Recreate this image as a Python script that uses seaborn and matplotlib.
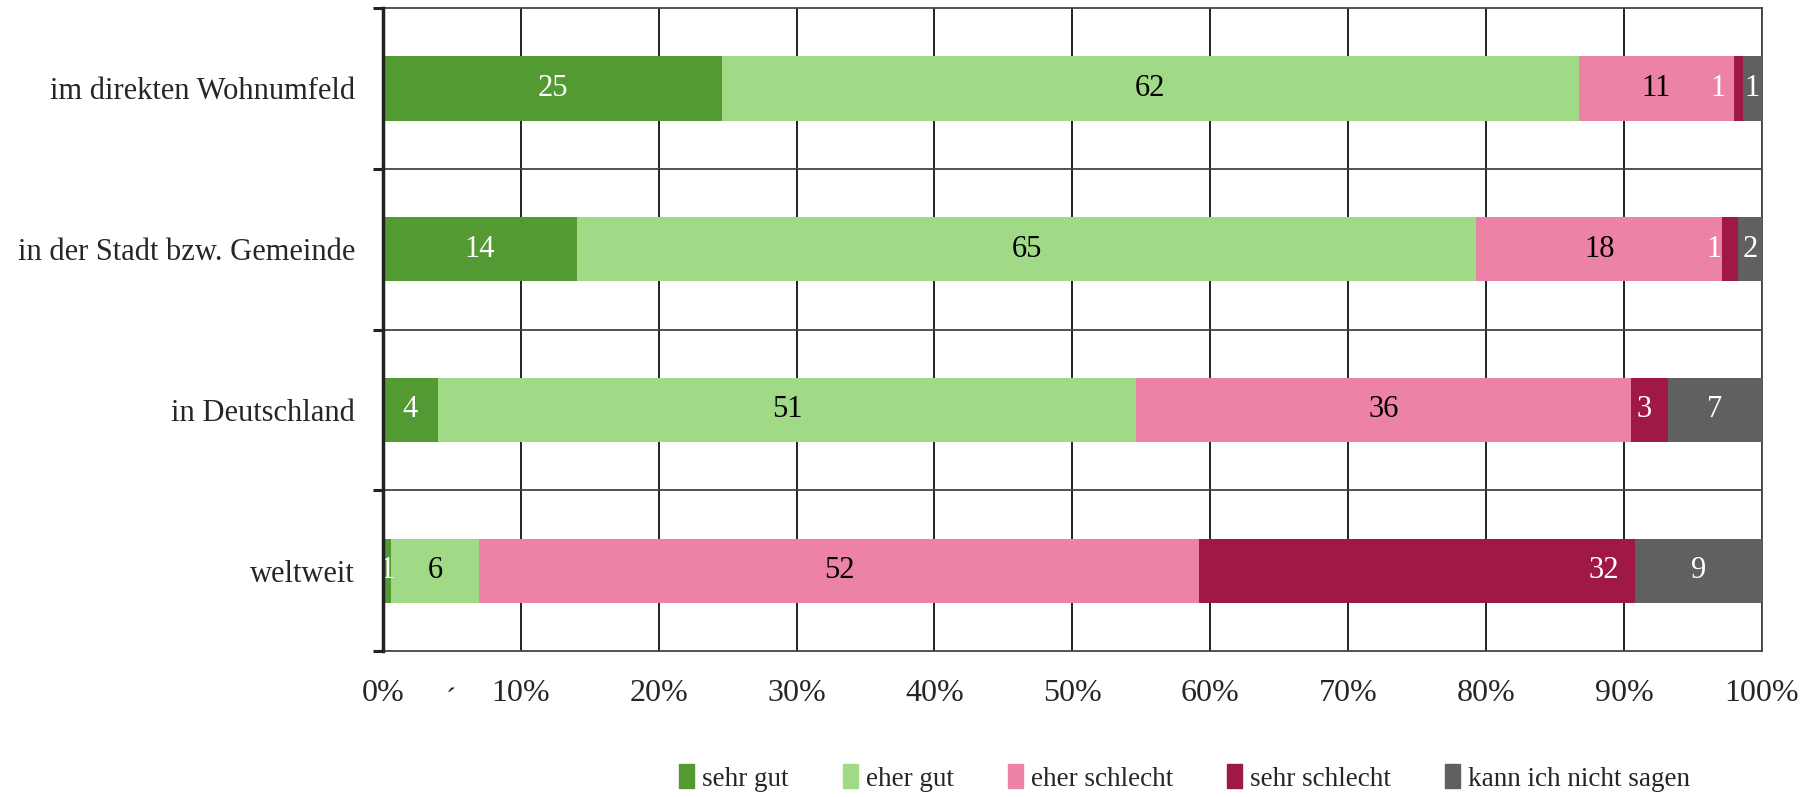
import pandas as pd
import matplotlib.pyplot as plt
import seaborn as sns
import numpy as np

# data (percent)
categories = ["im direkten Wohnumfeld", "in der Stadt bzw. Gemeinde", "in Deutschland", "weltweit"]
series = ["sehr gut", "eher gut", "eher schlecht", "sehr schlecht", "kann ich nicht sagen"]
sehr_gut = [24.6, 14.1, 4.0, 0.6]
eher_gut = [62.1, 65.2, 50.6, 6.4]
eher_schlecht = [11.3, 17.8, 35.9, 52.2]
sehr_schlecht = [0.6, 1.2, 2.7, 31.6]
kann_nicht = [1.4, 1.7, 6.8, 9.2]
x_ticks = [0, 10, 20, 30, 40, 50, 60, 70, 80, 90, 100]

colors = ["#539A32", "#A1DA86", "#ED82A7", "#A01848", "#606060"]
label_colors = ["white", "black", "black", "white", "white"]

df = pd.DataFrame([sehr_gut, eher_gut, eher_schlecht, sehr_schlecht, kann_nicht],
                  index=series, columns=categories).T
cum = df.cumsum(axis=1)

sns.set_style("white")
plt.rcParams["font.family"] = ["Liberation Serif", "DejaVu Serif"]

fig = plt.figure(figsize=(18.06, 7.97), dpi=100)
ax = fig.add_axes([0.212, 0.183, 0.7636, 0.807])

# stacked bars: draw cumulative totals from the last series to the first
for s, c in reversed(list(zip(series, colors))):
    sns.barplot(x=cum[s].values, y=categories, color=c, width=0.4,
                orient="h", ax=ax, saturation=1, edgecolor="none", zorder=3)

# value labels
for i, cat in enumerate(categories):
    left = 0
    for j, s in enumerate(series):
        v = df.loc[cat, s]
        txt = str(int(round(v)))
        if s == "sehr schlecht":
            ax.text(left + v - 1.2, i, txt, ha="right", va="center",
                    color=label_colors[j], fontsize=22, zorder=5)
        else:
            ax.text(left + v / 2, i, txt, ha="center", va="center",
                    color=label_colors[j], fontsize=22, zorder=5)
        left += v

ax.set_xlim(0, 100)
ax.set_ylim(len(categories) - 0.5, -0.5)
ax.set_xticks(x_ticks)
ax.set_xticklabels([f"{t}%" for t in x_ticks], fontsize=23)
ax.tick_params(axis="x", length=0, pad=20)
ax.set_yticks(range(len(categories)))
ax.set_yticklabels(categories, fontsize=22)
ax.tick_params(axis="y", which="major", length=0, pad=20)
ax.set_yticks(np.arange(-0.5, len(categories)), minor=True)
ax.tick_params(axis="y", which="minor", length=7, width=2.2, color="#222222", left=True)
ax.set_xlabel("")
ax.set_ylabel("")

# grid
for t in x_ticks[1:]:
    ax.axvline(t, color="#111111", lw=1.3, zorder=1)
for b in np.arange(0.5, len(categories) - 0.5):
    ax.axhline(b, color="#444444", lw=1.3, zorder=1)

for side in ["top", "right", "bottom"]:
    ax.spines[side].set_visible(True)
    ax.spines[side].set_color("#444444")
    ax.spines[side].set_linewidth(1.3)
ax.spines["left"].set_color("#222222")
ax.spines["left"].set_linewidth(2.5)
ax.spines["left"].set_zorder(6)

# stray accent mark from the original
ax.text(4.9, -0.055, "´", transform=ax.get_xaxis_transform(), fontsize=22,
        ha="center", va="top")

handles = [plt.Rectangle((0, 0), 1, 1, color=c) for c in colors]
fig.legend(handles, series, loc="center", bbox_to_anchor=(0.656, 0.024), ncol=5,
           frameon=False, fontsize=19.5, handlelength=0.55, handleheight=1.0,
           handletextpad=0.3, columnspacing=2.0)

plt.savefig("out.png", dpi=100)
plt.close()
